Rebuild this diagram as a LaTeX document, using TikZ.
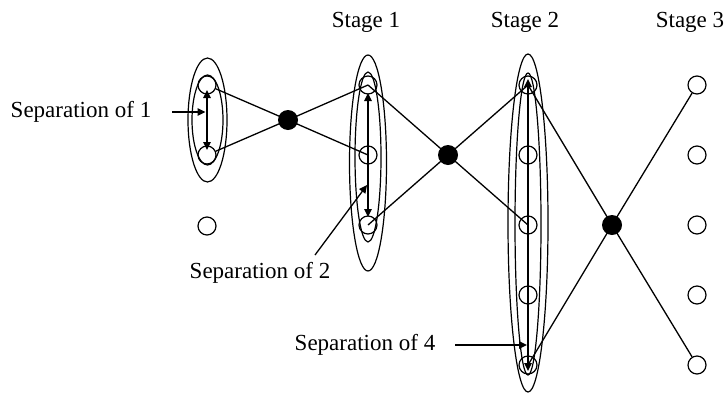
\documentclass[tikz,border=0pt]{standalone}
\usepackage{fontspec}
\setmainfont{Liberation Serif}
\usetikzlibrary{shapes.geometric,arrows.meta}
\begin{document}
\begin{tikzpicture}[x=1pt,y=-1pt,
  hollow/.style={circle,draw,line width=1.2pt,minimum size=18pt,inner sep=0pt},
  hub/.style={circle,fill=black,minimum size=20pt,inner sep=0pt},
  grp/.style={ellipse,draw,line width=1.2pt,inner sep=0pt},
  link/.style={line width=1.3pt},
  dbl/.style={line width=1.5pt,{Triangle[length=8pt,width=7.5pt]}-{Triangle[length=8pt,width=7.5pt]}},
  pointer/.style={line width=1.3pt,-{Triangle[length=8pt,width=7.5pt]}},
  lbl/.style={font=\fontsize{23}{26}\selectfont,inner sep=0pt}
]
\useasboundingbox (0,0) rectangle (727,394);

% group ellipses
\node[grp,minimum width=39pt,minimum height=124pt] (e1o) at (207.5,120) {};
\node[grp,minimum width=31pt,minimum height=90pt] (e1i) at (207.5,120) {};
\node[grp,minimum width=37pt,minimum height=216pt] (e2o) at (368,163) {};
\node[grp,minimum width=26pt,minimum height=170pt] (e2i) at (368,157) {};
\node[grp,minimum width=40pt,minimum height=338pt] (e3o) at (528,223) {};
\node[grp,minimum width=26pt,minimum height=302pt] (e3i) at (528,224) {};

% circles
\node[hollow] (c1a) at (207,85) {};
\node[hollow] (c1b) at (207,155) {};
\node[hollow] (c1c) at (207,226) {};
\node[hollow] (s1a) at (368,85) {};
\node[hollow] (s1b) at (368,155) {};
\node[hollow] (s1c) at (368,225) {};
\node[hollow] (s2a) at (528,85) {};
\node[hollow] (s2b) at (528,155) {};
\node[hollow] (s2c) at (528,225) {};
\node[hollow] (s2d) at (528,295) {};
\node[hollow] (s2e) at (528,365) {};
\node[hollow] (s3a) at (697,85) {};
\node[hollow] (s3b) at (697,155) {};
\node[hollow] (s3c) at (697,225) {};
\node[hollow] (s3d) at (697,295) {};
\node[hollow] (s3e) at (697,365) {};

% hubs
\node[hub] (h1) at (288,120) {};
\node[hub] (h2) at (448,155) {};
\node[hub] (h3) at (612,225) {};

% links
\draw[link] (h1.center) -- (c1a);
\draw[link] (h1.center) -- (c1b);
\draw[link] (h1.center) -- (s1a.center);
\draw[link] (h1.center) -- (s1b.center);
\draw[link] (h2.center) -- (s1a.center);
\draw[link] (h2.center) -- (s1c.center);
\draw[link] (h2.center) -- (s2a.center);
\draw[link] (h2.center) -- (s2c.center);
\draw[link] (h3.center) -- (s2a.center);
\draw[link] (h3.center) -- (s2e.center);
\draw[link] (h3.center) -- (s3a);
\draw[link] (h3.center) -- (s3e);

% separation arrows
\draw[dbl,shorten >=5pt,shorten <=5pt] (c1a.center) -- (c1b.center);
\draw[dbl,shorten >=8pt,shorten <=8pt] (s1a.center) -- (s1c.center);
\coordinate (t2) at (528,79);
\coordinate (b2) at (528,371);
\draw[dbl] (t2) -- (b2);

% labels
\node[lbl] (T1) at (366,22) {Stage 1};
\node[lbl] (T2) at (525,22) {Stage 2};
\node[lbl] (T3) at (690,22) {Stage 3};
\node[lbl] (L1) at (81,112) {Separation of 1};
\node[lbl] (L2) at (260,273) {Separation of 2};
\node[lbl] (L4) at (365,345) {Separation of 4};

% pointers
\coordinate (p1) at (172,112);
\coordinate (q1) at (205.5,112);
\draw[pointer] (p1) -- (q1);
\coordinate (p2) at (315,255);
\coordinate (q2) at (367,185);
\draw[pointer] (p2) -- (q2);
\coordinate (p4) at (455,345);
\coordinate (q4) at (527,345);
\draw[pointer] (p4) -- (q4);
\end{tikzpicture}
\end{document}
